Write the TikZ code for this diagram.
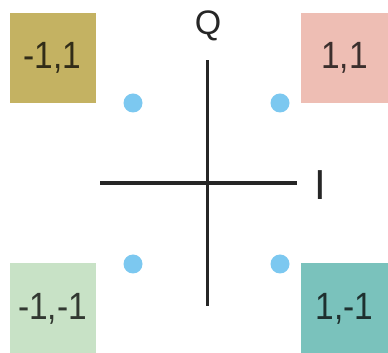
\documentclass[tikz,border=0pt]{standalone}
\usepackage{fontspec}
\setmainfont{Liberation Sans}
\definecolor{oliveyellow}{RGB}{196, 178, 98}
\definecolor{salmonpink}{RGB}{238, 190, 180}
\definecolor{palegreen}{RGB}{200, 226, 198}
\definecolor{tealgreen}{RGB}{122, 194, 188}
\definecolor{dotblue}{RGB}{124, 200, 240}
\usepackage{tikz}
\usetikzlibrary{positioning,calc}
\newcommand{\narrowlab}[1]{\scalebox{0.88}[1]{#1}}

\tikzset{
    symbox/.style={minimum width=86pt, minimum height=90pt, inner sep=0pt,
        font=\fontsize{38}{38}\selectfont, text=black, text opacity=0.75},
    symdot/.style={circle, fill=dotblue, minimum size=19pt, inner sep=0pt}
}

\begin{document}
\begin{tikzpicture}[x=1pt,y=1pt]
    \useasboundingbox (0,0) rectangle (388,353);
    % constellation boxes
    \node[symbox,fill=oliveyellow] (mm) at (52.5,295) {\narrowlab{-1,1}};
    \node[symbox,fill=salmonpink,minimum width=87pt] (pp) at (344.5,295) {\narrowlab{1,1}};
    \node[symbox,fill=palegreen] (nn) at (52.5,44.5) {\narrowlab{-1,-1}};
    \node[symbox,fill=tealgreen,minimum width=87pt] (pn) at (344.5,44.5) {\narrowlab{1,-1}};
    % symbol points
    \node[symdot] (d1) at (133,250) {};
    \node[symdot] (d2) at (280,250) {};
    \node[symdot] (d3) at (133,89) {};
    \node[symdot] (d4) at (280,89) {};
    % axes
    \coordinate (il) at (100,170);
    \coordinate (ir) at (297,170);
    \coordinate (qt) at (207,293);
    \coordinate (qb) at (207,47);
    \draw[line width=3.5pt,black!85] (il) -- (ir);
    \draw[line width=3pt,black!85] (qb) -- (qt);
    \node[font=\fontsize{34}{34}\selectfont,text=black!85] (qlab) at (208,327) {Q};
    \node[font=\fontsize{42}{42}\selectfont,text=black!85] (ilab) at (320,168) {I};
\end{tikzpicture}
\end{document}
